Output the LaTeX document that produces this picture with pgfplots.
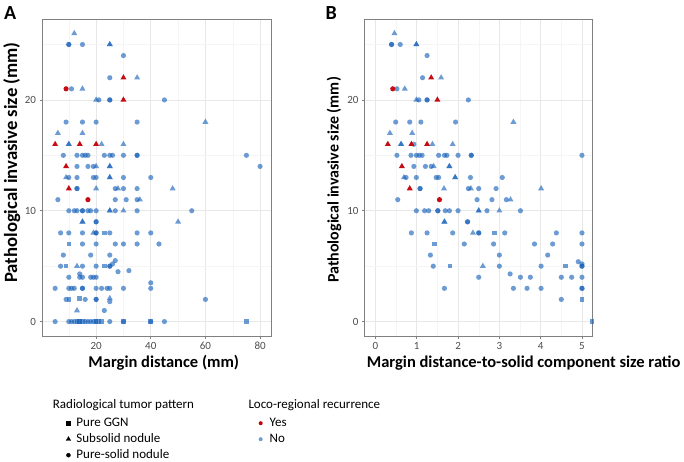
\documentclass[border=0pt]{standalone}
\usepackage{pgfplots}
\pgfplotsset{compat=1.18}
\usepackage{fontspec}
\setmainfont{Carlito}

\definecolor{noblue}{RGB}{20,95,185}
\definecolor{yesred}{RGB}{195,0,10}
\definecolor{gridmaj}{RGB}{232,232,232}
\definecolor{gridmin}{RGB}{245,245,245}
\definecolor{frame}{RGB}{128,128,128}
\definecolor{ticktext}{RGB}{77,77,77}

\pgfplotsset{
  panel/.style={
    scale only axis, anchor=south west, height=317pt,
    axis line style={draw=frame, line width=0.9pt},
    tick align=outside, major tick length=2.75pt, minor tick length=0pt,
    tick style={draw=frame, line width=0.6pt},
    xtick pos=left, ytick pos=left,
    grid=both,
    major grid style={draw=gridmaj, line width=0.6pt},
    minor grid style={draw=gridmin, line width=0.4pt},
    ticklabel style={font=\fontsize{11}{12}\selectfont, text=ticktext},
    /pgf/number format/assume math mode=true,
    ymin=-1.3, ymax=27.3, ytick={0,10,20}, minor ytick={5,15,25},
  },
  nodot/.style={only marks, mark=*, mark size=2.6pt,
    mark options={draw opacity=0, fill=noblue, fill opacity=0.62}},
  notri/.style={only marks, mark=triangle*, mark size=3.5pt,
    mark options={draw opacity=0, fill=noblue, fill opacity=0.62}},
  nosq/.style={only marks, mark=square*, mark size=2.3pt,
    mark options={draw opacity=0, fill=noblue, fill opacity=0.62}},
  yesdot/.style={only marks, mark=*, mark size=2.6pt,
    mark options={draw opacity=0, fill=yesred, fill opacity=0.95}},
  yestri/.style={only marks, mark=triangle*, mark size=3.5pt,
    mark options={draw opacity=0, fill=yesred, fill opacity=0.95}},
  legimg/.style={legend image code/.code={\draw[##1] plot coordinates {(0pt,0pt)};}},
  keylegend/.style={hide axis, scale only axis, width=1pt, height=1pt,
    xmin=0, xmax=1, ymin=0, ymax=1, anchor=north west,
    legend style={at={(0,1)}, anchor=north west, draw=none, fill=none,
      inner sep=0pt, row sep=5pt, legend cell align=left,
      font=\fontsize{13}{14}\selectfont,
      nodes={inner sep=0pt, text height=9pt, text depth=2pt}}},
}

\begin{document}
\begin{tikzpicture}[x=1pt, y=1pt]
\path[use as bounding box] (0,0) rectangle (684,462);

% ---------------- Panel A: margin distance ----------------
\begin{axis}[panel, at={(42.3pt,126pt)}, width=228.7pt,
  xmin=0.3, xmax=84, xtick={0,20,40,60,80}, minor xtick={10,30,50,70}]
\addplot[nodot] coordinates {
 (10,25) (10,25) (15,25) (30,24) (25,22) (11,21)
 (21,20) (25,20) (25,20) (45,20)
 (9,18) (15,18) (20,18) (35,18)
 (8,15) (13,15) (15,15) (16,15) (17,15) (23,15) (25,15) (26,15) (30,15) (35,15) (35,15) (75,15)
 (13,14) (17,14) (19,14) (80,14)
 (10,13) (13,13) (19,13) (20,13) (30,13) (40,13)
 (13,12) (13,12) (27,12) (30,12) (35,12)
 (6,11) (27,11) (31,11) (35,11)
 (10,10) (12,10) (13,10) (15,10) (15,10) (17,10) (18,10) (20,10) (27,10) (35,10) (55,10)
 (20,9) (20,9)
 (7,8) (10,8) (15,8) (20,8) (20,8) (25,8) (35,8) (40,8)
 (15,7) (20,7) (27,7) (30,7) (35,7) (43,7)
 (8,6) (18,6) (25,6)
 (7,5) (15,5) (20,5) (25,5) (25,5) (26,5.2) (27,5.5)
 (28,4.5) (32,4.6) (14,4.3)
 (10,4) (14,4) (15,4) (18,4) (19,4) (20,4)
 (40,3.5)
 (5,3) (10,3) (11,3) (12,3) (15,3) (15,3) (20,3) (22,3) (24,3) (25,3) (30,3) (40,3)
 (9,2) (16,2) (20,2) (20,2) (25,1.8) (60,2)
 (23,1)
 (5,0) (10,0) (11,0) (12,0) (16,0) (17,0) (18,0) (19,0) (25,0) (30,0) (40,0) (45,0)
};
\addplot[notri] coordinates {
 (12,26) (25,25) (25,25) (35,22) (15,21) (20,20) (60,18) (6,17) (15,17)
 (10,16) (10,16) (22,16) (30,16) (20,14) (25,14) (25,14) (9,13) (25,13) (25,13)
 (20,12) (28,12) (48,12) (36,11) (25,10) (25,10) (30,10) (15,9) (15,9) (50,9)
 (19,8) (13,5) (25,2.1) (13,1)
};
\addplot[nosq] coordinates {
 (10,7) (9,5) (23,8) (23,5) (10,2) (14,2.1)
 (13,0) (14,0) (14,0) (15,0) (20,0) (20,0) (21,0) (22,0) (30,0) (40,0) (75,0)
};
\addplot[yesdot] coordinates {(9,21) (17,11)};
\addplot[yestri] coordinates {(30,22) (30,20) (5,16) (14,16) (20,16) (9,14) (10,12)};
\end{axis}

% ---------------- Panel B: distance-to-solid ratio ----------------
\begin{axis}[panel, at={(364.7pt,126pt)}, width=227.6pt,
  xmin=-0.26, xmax=5.25, xtick={0,1,2,3,4,5}, minor xtick={0.5,1.5,2.5,3.5,4.5}]
\addplot[nodot] coordinates {
 (0.39,25) (0.39,25) (0.6,25) (1.25,24) (1.14,22) (0.52,21)
 (1.05,20) (1.25,20) (1.25,20) (2.25,20)
 (0.49,18) (0.83,18) (1.1,18) (1.94,18)
 (0.93,16)
 (0.52,15) (0.86,15) (0.99,15) (1.06,15) (1.13,15) (1.53,15) (1.67,15) (1.73,15) (2.0,15) (2.32,15) (2.32,15) (5.0,15)
 (0.93,14) (1.21,14) (1.35,14)
 (0.74,13) (0.99,13) (1.47,13) (1.53,13) (2.3,13) (3.07,13)
 (1.08,12) (1.08,12) (2.25,12) (2.5,12) (2.92,12)
 (0.54,11) (2.46,11) (2.82,11) (3.17,11)
 (0.99,10) (1.19,10) (1.29,10) (1.51,10) (1.51,10) (1.69,10) (1.79,10) (2.0,10) (2.7,10) (3.51,10)
 (2.23,9) (2.23,9)
 (0.87,8) (1.25,8) (1.87,8) (2.5,8) (2.5,8) (3.13,8) (4.38,8) (5.0,8)
 (2.15,7) (2.86,7) (3.85,7) (4.29,7) (5.0,7)
 (1.33,6) (3.0,6) (4.17,6)
 (1.4,5) (3.0,5) (4.01,5) (4.91,5.4) (5.0,5.2) (5.0,5.0) (5.0,5.0)
 (3.26,4.3)
 (2.5,4) (3.51,4) (3.75,4) (4.5,4) (4.75,4) (5.0,4)
 (1.67,3) (3.34,3) (3.67,3) (4.01,3) (5.0,3) (5.0,3)
 (4.5,2)
};
\addplot[notri] coordinates {
 (0.46,26) (0.99,25) (0.99,25) (1.59,22) (0.71,21) (0.99,20) (3.34,18) (0.35,17) (0.89,17)
 (0.62,16) (0.62,16) (1.38,16) (1.87,16) (1.41,14) (1.79,14) (1.79,14) (0.69,13) (1.93,13) (1.93,13)
 (1.66,12) (2.31,12) (4.01,12) (3.27,11) (2.5,10) (2.5,10) (3.0,10) (1.67,9) (1.67,9) (2.36,8) (2.6,5)
};
\addplot[nosq] coordinates {(1.43,7) (1.8,5) (2.88,8) (4.6,5) (5.0,2) (5.24,0)};
\addplot[yesdot] coordinates {(0.42,21) (1.55,11)};
\addplot[yestri] coordinates {(1.35,22) (1.5,20) (0.3,16) (0.87,16) (1.25,16) (0.64,14) (0.83,12)};
\end{axis}

% ---------------- Keys ----------------
\begin{axis}[keylegend, at={(66pt,44.5pt)}, legend style={column sep=5.75pt}]
\addlegendimage{only marks, mark=square*, mark size=2pt, black, legimg}
\addlegendentry{Pure GGN}
\addlegendimage{only marks, mark=triangle*, mark size=2.6pt, black, legimg}
\addlegendentry{Subsolid nodule}
\addlegendimage{only marks, mark=*, mark size=2pt, black, legimg}
\addlegendentry{Pure-solid nodule}
\end{axis}

\begin{axis}[keylegend, at={(258.5pt,44.5pt)}, legend style={column sep=7pt}]
\addlegendimage{only marks, mark=*, mark size=2pt, draw=yesred, draw opacity=0, fill=yesred, legimg}
\addlegendentry{Yes}
\addlegendimage{only marks, mark=*, mark size=2pt, draw=noblue, draw opacity=0, fill=noblue, fill opacity=0.62, legimg}
\addlegendentry{No}
\end{axis}

\node[anchor=base west, inner sep=0pt, font=\fontsize{13}{14}\selectfont] at (52.7,53) {Radiological tumor pattern};
\node[anchor=base west, inner sep=0pt, font=\fontsize{13}{14}\selectfont] at (248.3,53) {Loco-regional recurrence};

% ---------------- Titles and axis labels ----------------
\node[anchor=base west, font=\bfseries\fontsize{20}{22}\selectfont, inner sep=0pt] at (4,442) {A};
\node[anchor=base west, font=\bfseries\fontsize{20}{22}\selectfont, inner sep=0pt] at (325.5,442) {B};

\node[anchor=base, font=\bfseries\fontsize{16.5}{18}\selectfont, inner sep=0pt] at (163.8,94) {Margin distance (mm)};
\node[anchor=base west, font=\bfseries\fontsize{16.5}{18}\selectfont, inner sep=0pt] at (366.7,94) {Margin distance-to-solid component size ratio};

\node[anchor=base west, rotate=90, font=\bfseries\fontsize{18.7}{20}\selectfont, inner sep=0pt] at (17,179) {Pathological invasive size (mm)};
\node[anchor=base west, rotate=90, font=\bfseries\fontsize{16}{18}\selectfont, inner sep=0pt] at (338.5,179) {Pathological invasive size (mm)};
\end{tikzpicture}
\end{document}
